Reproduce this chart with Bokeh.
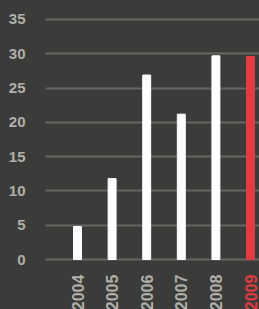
from math import pi
from bokeh.plotting import figure
from bokeh.models import ColumnDataSource, Range1d, FixedTicker
from bokeh.embed import file_html
from bokeh.resources import INLINE
from bokeh.core.properties import value

years = [2004, 2005, 2006, 2007, 2008, 2009]
values = [4.8, 11.8, 26.9, 21.2, 29.7, 29.6]
year_labels = ["2004", "2005", "2006", "2007", "2008", "2009"]
y_ticks = [0, 5, 10, 15, 20, 25, 30, 35]

BG = "#3b3c39"
GRID = "#666762"
TXT = "#b0afa9"
RED = "#e23c42"

bar_colors = ["#ffffff"] * 5 + [RED]
label_colors = [TXT] * 5 + [RED]

src = ColumnDataSource(dict(x=years, top=values, color=bar_colors,
                            lab=year_labels, lcol=label_colors,
                            ly=[-2.2] * len(years)))

p = figure(width=259, height=309, output_backend="svg", toolbar_location=None,
           x_range=Range1d(2003.075, 2009.26), y_range=Range1d(-7.29, 37.77),
           min_border_left=45, min_border_right=0, min_border_top=0,
           min_border_bottom=0)
p.background_fill_color = None
p.border_fill_color = BG
p.outline_line_color = None

p.vbar(x="x", top="top", width=0.23, bottom=0, color="color", source=src)
p.text(x="x", y="ly", text="lab", source=src, angle=pi / 2,
       text_align="right", text_baseline="middle",
       text_color="lcol", text_font_size="16px",
       text_font_style="bold", text_font=value("Liberation Sans"))

p.xaxis.visible = False
p.xgrid.grid_line_color = None
p.yaxis.ticker = FixedTicker(ticks=y_ticks)
p.yaxis.axis_line_color = None
p.yaxis.major_tick_line_color = None
p.yaxis.minor_tick_line_color = None
p.yaxis.major_label_standoff = 14
p.yaxis.major_label_text_color = TXT
p.yaxis.major_label_text_font = "Liberation Sans"
p.yaxis.major_label_text_font_style = "bold"
p.yaxis.major_label_text_font_size = "15px"
p.ygrid.ticker = FixedTicker(ticks=y_ticks)
p.ygrid.grid_line_color = GRID
p.ygrid.grid_line_width = 2

html = file_html(p, INLINE)
html = html.replace("</head>", "<style>html,body{background:%s !important;}</style></head>" % BG, 1)
open("out.html", "w").write(html)
